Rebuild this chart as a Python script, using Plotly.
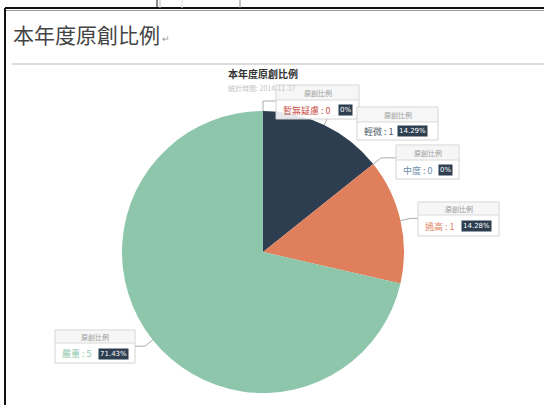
import math
import plotly.graph_objects as go

# ---- data ----
categories = ["暫無疑慮", "輕微", "中度", "過高", "嚴重"]
values = [0, 1, 0, 1, 5]
pct_labels = ["0%", "14.29%", "0%", "14.28%", "71.43%"]
slice_colors = ["#c9514a", "#2c3e50", "#6b8fae", "#df7f5c", "#8ec6ab"]
text_colors = ["#c9514a", "#4a5866", "#6b8fae", "#df7f5c", "#8ec6ab"]
series_name = "原創比例"
heading = "本年度原創比例"
chart_title = "本年度原創比例"
subtitle = "統計時間: 2014-11-17"

# ---- layout constants (pixels) ----
W, H = 544, 405
CX, CY, R = 263, 252, 141
# callout boxes: (x0, y0, x1, y1, divider y)
boxes = [
    (276, 85, 359, 119, 100),
    (357, 107, 438, 140, 122),
    (396, 145, 459, 179, 160),
    (418, 202, 499, 236, 215),
    (55, 330, 135, 363, 343),
]
badge_x = [338, 397, 438, 461, 98]


def X(px):
    return px / W


def Y(py):
    return 1 - py / H


fig = go.Figure()
fig.add_trace(go.Pie(
    labels=categories, values=values, sort=False, direction="clockwise",
    rotation=0, marker=dict(colors=slice_colors, line=dict(width=0)),
    textinfo="none", showlegend=False, hoverinfo="label+value+percent",
    domain=dict(x=[X(CX - R), X(CX + R)], y=[Y(CY + R), Y(CY - R)]),
))

shapes = []
annotations = []

# page frame
line_k = dict(color="#111", width=2)
shapes.append(dict(type="line", xref="paper", yref="paper", x0=X(5), x1=X(544), y0=Y(8), y1=Y(8), line=line_k))
shapes.append(dict(type="line", xref="paper", yref="paper", x0=X(5), x1=X(544), y0=Y(10.5), y1=Y(10.5), line=dict(color="#999", width=1)))
shapes.append(dict(type="line", xref="paper", yref="paper", x0=X(5), x1=X(5), y0=Y(8), y1=Y(405), line=line_k))
for vx, col in [(157, "#111"), (160, "#bbb"), (182, "#ddd"), (240, "#888")]:
    shapes.append(dict(type="line", xref="paper", yref="paper", x0=X(vx), x1=X(vx), y0=Y(0), y1=Y(8), line=dict(color=col, width=1)))
# rule under heading
shapes.append(dict(type="line", xref="paper", yref="paper", x0=X(12), x1=X(544), y0=Y(64), y1=Y(64), line=dict(color="#dcdcdc", width=2)))

annotations.append(dict(text=heading, x=X(11), y=Y(34), xref="paper", yref="paper", xanchor="left", yanchor="middle",
                        showarrow=False, font=dict(size=21, color="#444", family="Noto Sans CJK TC")))
annotations.append(dict(text="↵", x=X(160), y=Y(38), xref="paper", yref="paper", xanchor="left", yanchor="middle",
                        showarrow=False, font=dict(size=9, color="#999")))
annotations.append(dict(text="<b>" + chart_title + "</b>", x=X(263), y=Y(73), xref="paper", yref="paper",
                        xanchor="center", yanchor="middle", showarrow=False,
                        font=dict(size=10, color="#333", family="Noto Sans CJK TC")))

# leader lines computed from slice angles
total = sum(values)
cum = 0
for i, v in enumerate(values):
    frac = (cum + v / 2) / total
    cum += v
    ang = 2 * math.pi * frac
    px0 = CX + R * math.sin(ang)
    py0 = CY - R * math.cos(ang)
    px1 = CX + (R + 10) * math.sin(ang)
    py1 = CY - (R + 10) * math.cos(ang)
    bx0, by0, bx1, by1, dv = boxes[i]
    ex = bx0 if px1 < bx0 else bx1
    path = f"M {X(px0)} {Y(py0)} L {X(px1)} {Y(py1)} L {X(ex)} {Y(py1)}"
    shapes.append(dict(type="path", xref="paper", yref="paper", path=path, line=dict(color="#aaa", width=1)))

# callout boxes
for i, (bx0, by0, bx1, by1, dv) in enumerate(boxes):
    shapes.append(dict(type="rect", xref="paper", yref="paper", x0=X(bx0), x1=X(bx1), y0=Y(by1), y1=Y(by0),
                       fillcolor="rgba(255,255,255,0.88)", line=dict(color="#d2d2d2", width=1), layer="above"))
    shapes.append(dict(type="rect", xref="paper", yref="paper", x0=X(bx0 + 1), x1=X(bx1 - 1), y0=Y(dv), y1=Y(by0 + 1),
                       fillcolor="rgba(244,244,244,0.85)", line=dict(width=0), layer="above"))
    shapes.append(dict(type="line", xref="paper", yref="paper", x0=X(bx0), x1=X(bx1), y0=Y(dv), y1=Y(dv),
                       line=dict(color="#dadada", width=1), layer="above"))

annotations.append(dict(text=subtitle, x=X(226), y=Y(88), xref="paper", yref="paper", xanchor="left",
                        yanchor="middle", showarrow=False, font=dict(size=7, color="#c4c4c4")))

for i, (bx0, by0, bx1, by1, dv) in enumerate(boxes):
    annotations.append(dict(text=series_name, x=X((bx0 + bx1) / 2), y=Y((by0 + dv) / 2), xref="paper", yref="paper",
                            xanchor="center", yanchor="middle", showarrow=False,
                            font=dict(size=7, color="#9a9a9a", family="Noto Sans CJK TC")))
    annotations.append(dict(text=f"{categories[i]} : {values[i]}", x=X(bx0 + 5), y=Y((dv + by1) / 2 + 0.5),
                            xref="paper", yref="paper", xanchor="left", yanchor="middle", showarrow=False,
                            font=dict(size=9, color=text_colors[i], family="Noto Sans CJK TC")))
    annotations.append(dict(text=pct_labels[i], x=X(badge_x[i]), y=Y((dv + by1) / 2 + 0.5),
                            xref="paper", yref="paper", xanchor="left", yanchor="middle", showarrow=False,
                            bgcolor="#2c3e50", borderpad=1,
                            font=dict(size=7, color="white", family="DejaVu Sans")))

fig.update_layout(
    width=W, height=H, margin=dict(l=0, r=0, t=0, b=0),
    paper_bgcolor="white", plot_bgcolor="white",
    shapes=shapes, annotations=annotations,
    font=dict(family="Noto Sans CJK TC"),
)

fig.write_html("out.html", config={"displayModeBar": False},
               post_script="document.body.style.margin='0';document.body.style.overflow='hidden';")
